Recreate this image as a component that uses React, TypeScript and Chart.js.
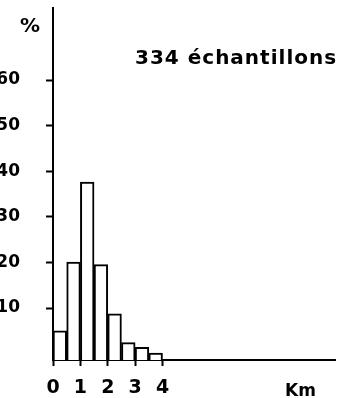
import React, { useEffect, useRef } from "react";
import { Chart, registerables } from "chart.js";

Chart.register(...registerables);

// Distance classes (km) – bar centres of 0.5 km bins
const binCentres = [0.25, 0.75, 1.25, 1.75, 2.25, 2.75, 3.25, 3.75];
// Percentage of samples per class
const percentValues = [5.0, 20.1, 37.6, 19.5, 8.7, 2.4, 1.4, 0.1];
// Axis tick labels
const yTickValues = [10, 20, 30, 40, 50, 60];
const xTickValues = [0, 1, 2, 3, 4];

const yAxisLabel = "%";
const xAxisLabel = "Km";
const sampleNote = "334 échantillons";

const FONT = "'DejaVu Sans', sans-serif";

export default function App() {
  const canvasRef = useRef<HTMLCanvasElement | null>(null);

  useEffect(() => {
    if (!canvasRef.current) return;
    const chart = new Chart(canvasRef.current, {
      type: "bar",
      data: {
        datasets: [
          {
            data: binCentres.map((x, i) => ({ x, y: percentValues[i] })),
            backgroundColor: "#ffffff",
            borderColor: "#000000",
            borderWidth: 2,
            base: -1.4,
            barPercentage: 1,
            categoryPercentage: 1,
          } as any,
        ],
      },
      options: {
        responsive: false,
        animation: false,
        layout: { padding: { top: 8, right: 2, left: 0, bottom: 0 } },
        plugins: {
          legend: { display: false },
          tooltip: { enabled: false },
        },
        scales: {
          x: {
            type: "linear",
            min: 0,
            max: 10.3,
            offset: false,
            afterBuildTicks: (scale: any) => {
              scale.ticks = xTickValues.map((v) => ({ value: v }));
            },
            afterFit: (scale: any) => {
              scale.height = 38;
              scale.paddingLeft = 0;
              scale.paddingRight = 0;
            },
            grid: {
              offset: false,
              drawOnChartArea: false,
              drawTicks: true,
              tickLength: 6,
              tickWidth: 2,
              tickColor: "#000000",
            },
            border: { display: true, color: "#000000", width: 2 },
            ticks: {
              color: "#000000",
              font: { family: FONT, size: 19, weight: "bold" },
              padding: 11,
              maxRotation: 0,
              autoSkip: false,
              callback: (v: any) => String(v),
            },
          },
          y: {
            type: "linear",
            min: -1.4,
            max: 75.8,
            afterBuildTicks: (scale: any) => {
              scale.ticks = yTickValues.map((v) => ({ value: v }));
            },
            afterFit: (scale: any) => {
              scale.width = 53;
              scale.paddingTop = 0;
              scale.paddingBottom = 0;
            },
            grid: {
              drawOnChartArea: false,
              drawTicks: true,
              tickLength: 7,
              tickWidth: 2,
              tickColor: "#000000",
            },
            border: { display: true, color: "#000000", width: 2 },
            ticks: {
              color: "#000000",
              font: { family: FONT, size: 17, weight: "bold" },
              padding: 26,
              callback: (v: any) => String(v),
            },
          },
        },
      },
    });
    return () => chart.destroy();
  }, []);

  const textStyle: React.CSSProperties = {
    position: "absolute",
    fontFamily: FONT,
    fontWeight: "bold",
    color: "#000",
    lineHeight: 1,
    whiteSpace: "nowrap",
    pointerEvents: "none",
  };

  return (
    <div
      style={{
        position: "absolute",
        left: 0,
        top: 0,
        width: 337,
        height: 398,
        background: "#fff",
        overflow: "hidden",
      }}
    >
      <canvas ref={canvasRef} width={337} height={398} style={{ display: "block" }} />
      <div style={{ ...textStyle, left: 20, top: 15, fontSize: 20 }}>{yAxisLabel}</div>
      <div style={{ ...textStyle, left: 135, top: 47, fontSize: 20, letterSpacing: "1px" }}>
        {sampleNote}
      </div>
      <div style={{ ...textStyle, left: 285, top: 382, fontSize: 17 }}>{xAxisLabel}</div>
    </div>
  );
}
